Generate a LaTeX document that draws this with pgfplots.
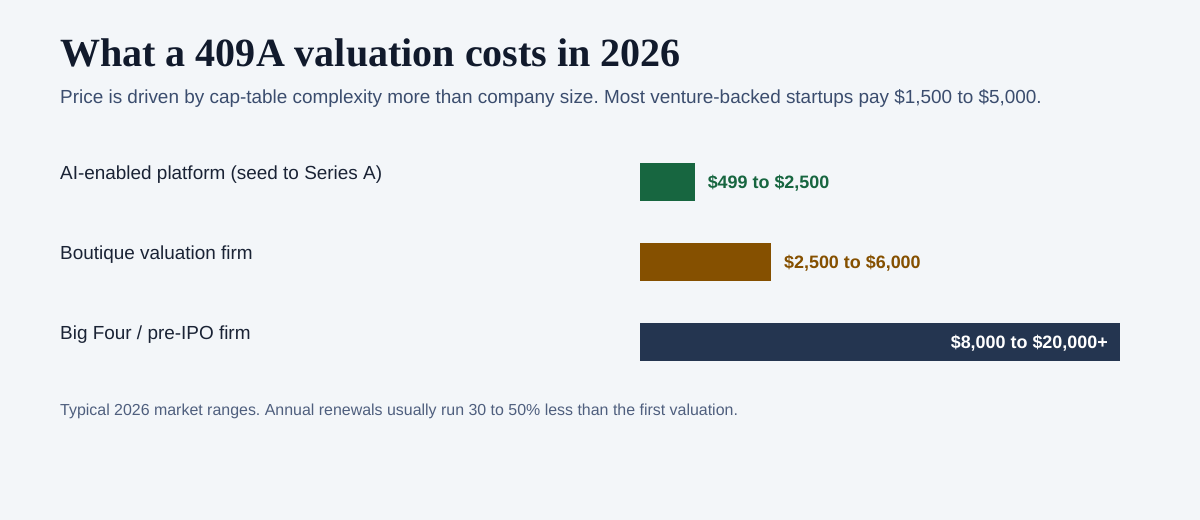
\documentclass[border=0pt]{standalone}
\usepackage{fontspec}
\setmainfont{Liberation Sans}
\newfontfamily\titlefont{Liberation Serif}
\usepackage{pgfplots}
\pgfplotsset{compat=1.18}
\definecolor{bgc}{HTML}{F3F6F9}
\definecolor{titlec}{HTML}{111A2C}
\definecolor{subc}{HTML}{3B4D6E}
\definecolor{labc}{HTML}{1A2335}
\definecolor{footc}{HTML}{4F5F7E}
\definecolor{cgreen}{HTML}{176640}
\definecolor{cbrown}{HTML}{855000}
\definecolor{cnavy}{HTML}{243550}
\frenchspacing
\begin{document}
\begin{tikzpicture}[x=1bp,y=1bp]
\fill[bgc] (0,0) rectangle (1200,520);
\node[anchor=base west, inner sep=0, text=titlec, font=\titlefont\bfseries\fontsize{40.2}{44}\selectfont] at (60,520-67) {What a 409A valuation costs in 2026};
\node[anchor=base west, inner sep=0, text=subc, font=\fontsize{19}{22}\selectfont] at (60,520-104) {Price is driven by cap-table complexity more than company size. Most venture-backed startups pay \$1,500 to \$5,000.};
\node[anchor=base west, inner sep=0, text=labc, font=\fontsize{19}{22}\selectfont] at (60,520-180) {AI-enabled platform (seed to Series A)};
\node[anchor=base west, inner sep=0, text=labc, font=\fontsize{19}{22}\selectfont] at (60,520-260) {Boutique valuation firm};
\node[anchor=base west, inner sep=0, text=labc, font=\fontsize{19}{22}\selectfont] at (60,520-340) {Big Four / pre-IPO firm};
\node[anchor=base west, inner sep=0, text=footc, font=\fontsize{16}{19}\selectfont] at (60,520-416) {Typical 2026 market ranges. Annual renewals usually run 30 to 50\% less than the first valuation.};
\begin{axis}[at={(640bp,138bp)}, anchor=south west, scale only axis,
  width=480bp, height=240bp, xmin=0, xmax=22000, ymin=-0.5, ymax=2.5,
  y dir=reverse, hide axis, xbar, bar width=38bp, bar shift=0pt,
  nodes near coords style={inner sep=0, yshift=-1.5bp, font=\bfseries\fontsize{18}{21}\selectfont}]
\addplot[fill=cgreen, draw=none, nodes near coords={\$499 to \$2,500},
  nodes near coords style={anchor=west, xshift=13bp, text=cgreen}] coordinates {(2500,0)};
\addplot[fill=cbrown, draw=none, nodes near coords={\$2,500 to \$6,000},
  nodes near coords style={anchor=west, xshift=13bp, text=cbrown}] coordinates {(6000,1)};
\addplot[fill=cnavy, draw=none, nodes near coords={\$8,000 to \$20,000+},
  nodes near coords style={anchor=east, xshift=-12bp, text=white}] coordinates {(22000,2)};
\end{axis}
\end{tikzpicture}
\end{document}
